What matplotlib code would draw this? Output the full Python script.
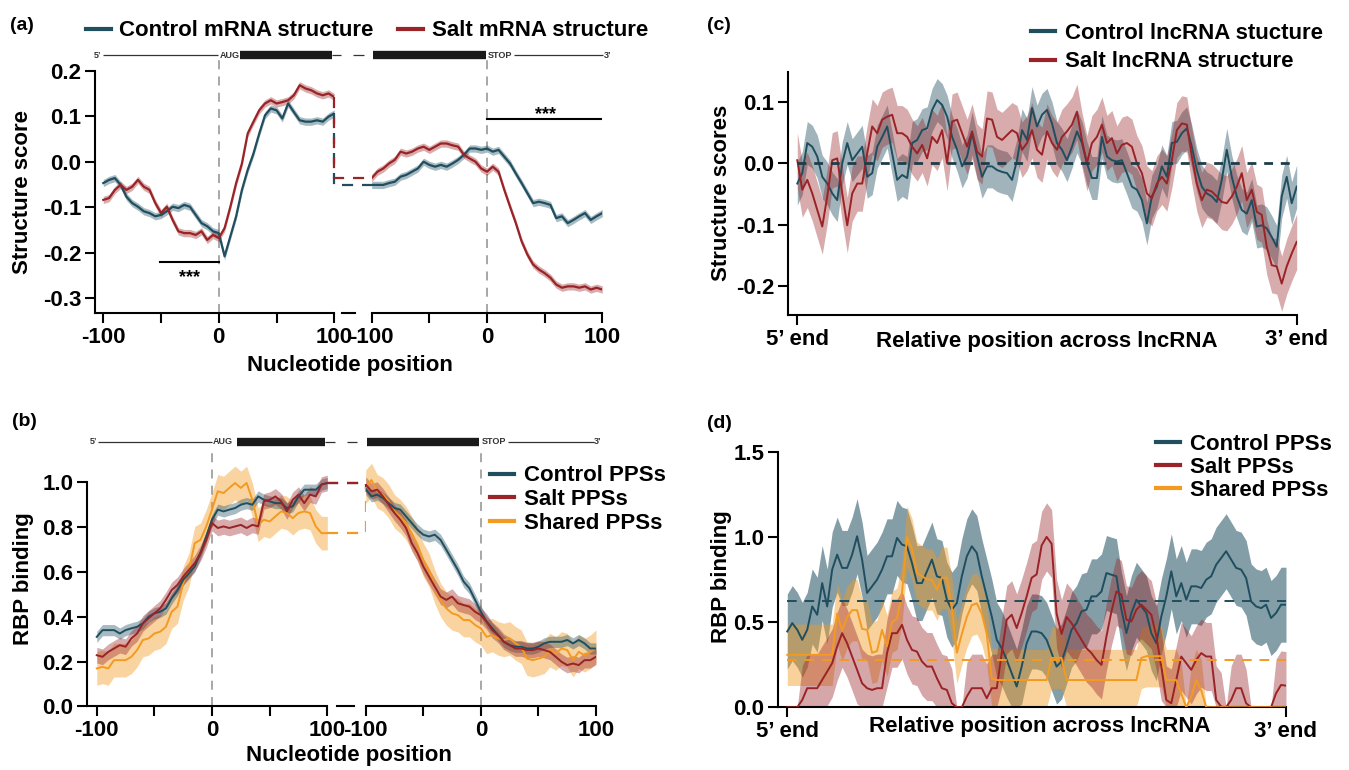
import numpy as np
import matplotlib
matplotlib.use('Agg')
import matplotlib.pyplot as plt
from matplotlib.ticker import FormatStrFormatter
from matplotlib.lines import Line2D

plt.rcParams['font.family'] = ['Liberation Sans', 'DejaVu Sans']
plt.rcParams['font.weight'] = 'bold'
plt.rcParams['axes.unicode_minus'] = False

# ---------------- data ----------------
pos_nt = list(range(-100, 101, 5))

# (a) mRNA structure score around start / stop codon
a_ctrl_start = [-0.047, -0.040, -0.036, -0.051, -0.077, -0.091, -0.099, -0.109, -0.113, -0.120,
                -0.117, -0.109, -0.099, -0.102, -0.095, -0.099, -0.117, -0.135, -0.142, -0.153,
                -0.157, -0.208, -0.164, -0.120, -0.062, -0.018, 0.018, 0.062, 0.102, 0.117,
                0.113, 0.095, 0.128, 0.109, 0.091, 0.088, 0.088, 0.091, 0.088, 0.099, 0.106]
a_salt_start = [-0.084, -0.080, -0.062, -0.051, -0.062, -0.055, -0.040, -0.055, -0.062, -0.091,
                -0.113, -0.099, -0.128, -0.153, -0.157, -0.157, -0.161, -0.153, -0.172, -0.161,
                -0.168, -0.146, -0.099, -0.047, -0.004, 0.062, 0.088, 0.113, 0.128, 0.135,
                0.128, 0.131, 0.135, 0.146, 0.168, 0.161, 0.157, 0.150, 0.146, 0.150, 0.142]
a_ctrl_stop = [-0.051, -0.051, -0.051, -0.047, -0.044, -0.033, -0.029, -0.022, -0.015, 0.000,
               -0.007, -0.011, -0.007, -0.011, -0.004, 0.004, 0.015, 0.029, 0.029, 0.026,
               0.029, 0.022, 0.026, 0.011, -0.004, -0.026, -0.047, -0.069, -0.091, -0.088,
               -0.091, -0.095, -0.124, -0.120, -0.135, -0.128, -0.120, -0.113, -0.128, -0.120, -0.113]
a_salt_stop = [-0.036, -0.022, -0.015, -0.004, 0.004, 0.022, 0.018, 0.022, 0.029, 0.033,
               0.026, 0.033, 0.040, 0.040, 0.036, 0.033, 0.015, 0.007, 0.000, -0.015,
               -0.022, -0.011, -0.022, -0.062, -0.099, -0.135, -0.175, -0.204, -0.226, -0.237,
               -0.245, -0.255, -0.270, -0.277, -0.274, -0.274, -0.277, -0.274, -0.281, -0.277, -0.281]
a_se = {'ctrl': 0.008, 'salt': 0.008}

# (b) RBP binding around start / stop codon
b_ctrl_start = [0.310, 0.340, 0.340, 0.340, 0.325, 0.340, 0.348, 0.355, 0.370, 0.400,
                0.415, 0.422, 0.437, 0.482, 0.519, 0.564, 0.594, 0.624, 0.684, 0.758,
                0.833, 0.878, 0.870, 0.878, 0.885, 0.900, 0.907, 0.900, 0.937, 0.922,
                0.915, 0.907, 0.907, 0.885, 0.893, 0.937, 0.967, 0.967, 0.967, 0.990, 0.997]
b_salt_start = [0.228, 0.221, 0.243, 0.258, 0.273, 0.266, 0.303, 0.325, 0.370, 0.393,
                0.415, 0.437, 0.475, 0.519, 0.542, 0.579, 0.609, 0.639, 0.684, 0.743,
                0.818, 0.796, 0.803, 0.796, 0.803, 0.810, 0.796, 0.810, 0.803, 0.915,
                0.922, 0.937, 0.915, 0.870, 0.922, 0.945, 0.907, 0.945, 0.937, 0.990, 0.997]
b_shared_start = [0.169, 0.176, 0.169, 0.206, 0.206, 0.206, 0.221, 0.251, 0.296, 0.303,
                  0.325, 0.333, 0.355, 0.422, 0.445, 0.549, 0.609, 0.728, 0.743, 0.803,
                  0.878, 0.960, 0.952, 0.975, 0.997, 0.975, 0.997, 0.922, 0.810, 0.833,
                  0.825, 0.848, 0.870, 0.863, 0.840, 0.863, 0.870, 0.863, 0.803, 0.773, 0.773]
b_ctrl_stop = [0.970, 0.937, 0.945, 0.930, 0.907, 0.885, 0.878, 0.848, 0.818, 0.788,
               0.766, 0.758, 0.766, 0.743, 0.699, 0.654, 0.609, 0.557, 0.527, 0.475,
               0.422, 0.378, 0.348, 0.318, 0.288, 0.273, 0.266, 0.266, 0.258, 0.258,
               0.266, 0.281, 0.288, 0.288, 0.288, 0.296, 0.281, 0.296, 0.281, 0.258, 0.258]
b_salt_stop = [0.990, 0.960, 0.967, 0.937, 0.900, 0.863, 0.833, 0.796, 0.728, 0.684,
               0.624, 0.579, 0.534, 0.490, 0.475, 0.490, 0.460, 0.452, 0.445, 0.422,
               0.407, 0.378, 0.340, 0.318, 0.288, 0.273, 0.258, 0.258, 0.251, 0.251,
               0.258, 0.251, 0.243, 0.221, 0.199, 0.184, 0.191, 0.184, 0.206, 0.206, 0.221]
b_shared_stop = [0.980, 1.010, 0.960, 0.945, 0.915, 0.870, 0.848, 0.818, 0.773, 0.721,
                 0.654, 0.609, 0.534, 0.475, 0.437, 0.415, 0.407, 0.385, 0.385, 0.363,
                 0.348, 0.310, 0.318, 0.303, 0.296, 0.303, 0.281, 0.266, 0.213, 0.206,
                 0.213, 0.221, 0.251, 0.236, 0.258, 0.251, 0.206, 0.243, 0.228, 0.243, 0.266]
b_se = {'ctrl': 0.025, 'salt': 0.035, 'shared': 0.075}

# (c) lncRNA structure, relative position 0..100
pos_rel = list(range(0, 101))
c_ctrl = [-0.033, -0.016, 0.033, 0.027, 0.011, -0.022, -0.033, -0.049, -0.060, 0.000,
          0.033, 0.005, 0.016, 0.027, -0.022, -0.016, 0.027, 0.043, 0.060, 0.016,
          -0.027, -0.019, -0.024, 0.033, 0.038, 0.054, 0.057, 0.087, 0.103, 0.095,
          0.076, 0.043, 0.022, -0.005, 0.011, 0.049, 0.011, -0.022, -0.005, -0.005,
          -0.011, -0.014, -0.016, -0.027, 0.005, 0.054, 0.038, 0.090, 0.060, 0.079,
          0.087, 0.065, 0.033, 0.022, 0.005, 0.027, 0.052, 0.033, 0.000, -0.024,
          -0.024, 0.043, 0.011, 0.005, 0.003, 0.005, -0.016, -0.038, -0.043, -0.060,
          -0.098, -0.054, -0.038, -0.005, -0.022, 0.033, 0.035, 0.049, 0.057, 0.027,
          -0.011, -0.038, -0.049, -0.054, -0.063, -0.027, 0.022, -0.022, -0.054, -0.076,
          -0.082, -0.060, -0.103, -0.101, -0.106, -0.120, -0.136, -0.054, -0.022, -0.065,
          -0.038]
c_salt = [0.005, -0.043, -0.027, -0.049, -0.076, -0.103, -0.054, 0.005, 0.008, -0.049,
          -0.101, -0.049, -0.033, -0.033, 0.016, 0.060, 0.049, 0.071, 0.076, 0.079,
          0.049, 0.049, 0.043, 0.027, 0.016, 0.030, 0.008, 0.043, 0.033, 0.054,
          0.000, 0.068, 0.071, 0.049, 0.027, 0.052, 0.019, 0.011, 0.073, 0.071,
          0.043, 0.038, 0.046, 0.054, 0.049, 0.022, 0.033, 0.054, 0.022, 0.014,
          0.052, 0.033, 0.022, 0.043, 0.052, 0.063, 0.084, 0.038, 0.000, 0.033,
          0.043, 0.063, 0.033, 0.041, 0.016, 0.030, 0.033, 0.027, 0.000, -0.016,
          -0.049, -0.057, -0.033, -0.022, -0.033, 0.005, 0.054, 0.065, 0.063, 0.011,
          -0.033, -0.060, -0.043, -0.046, -0.054, -0.063, -0.065, -0.054, -0.038, -0.016,
          -0.060, -0.043, -0.079, -0.084, -0.136, -0.166, -0.168, -0.196, -0.168, -0.147,
          -0.128]
c_se = {'ctrl': 0.035, 'salt': 0.045}
c_ref = 0.0

# (d) lncRNA RBP binding
d_ctrl = [0.445, 0.494, 0.455, 0.396, 0.455, 0.592, 0.543, 0.729, 0.592, 0.808,
          0.896, 0.818, 0.818, 0.896, 1.004, 0.867, 0.671, 0.710, 0.749, 0.808,
          0.886, 0.886, 0.994, 0.955, 0.945, 0.847, 0.729, 0.729, 0.798, 0.867,
          0.769, 0.759, 0.631, 0.573, 0.612, 0.769, 0.886, 0.945, 0.906, 0.769,
          0.651, 0.533, 0.396, 0.347, 0.278, 0.200, 0.122, 0.239, 0.376, 0.445,
          0.445, 0.435, 0.396, 0.318, 0.239, 0.269, 0.357, 0.455, 0.494, 0.563,
          0.573, 0.651, 0.651, 0.680, 0.788, 0.778, 0.769, 0.573, 0.435, 0.553,
          0.631, 0.592, 0.553, 0.435, 0.376, 0.533, 0.651, 0.798, 0.651, 0.729,
          0.631, 0.710, 0.710, 0.700, 0.749, 0.769, 0.837, 0.876, 0.916, 0.867,
          0.818, 0.808, 0.759, 0.622, 0.592, 0.582, 0.602, 0.524, 0.553, 0.602,
          0.602]
d_salt = [0.000, 0.000, 0.000, 0.043, 0.112, 0.112, 0.112, 0.161, 0.210, 0.259,
          0.357, 0.435, 0.376, 0.298, 0.220, 0.141, 0.112, 0.102, 0.112, 0.112,
          0.318, 0.435, 0.435, 0.484, 0.396, 0.337, 0.327, 0.269, 0.239, 0.239,
          0.171, 0.112, 0.102, 0.024, 0.000, 0.000, 0.063, 0.112, 0.112, 0.112,
          0.053, 0.112, 0.112, 0.318, 0.514, 0.543, 0.465, 0.553, 0.651, 0.760,
          0.780, 0.950, 1.000, 0.960, 0.550, 0.430, 0.530, 0.494, 0.445, 0.396,
          0.347, 0.318, 0.278, 0.249, 0.416, 0.563, 0.680, 0.661, 0.514, 0.504,
          0.573, 0.602, 0.573, 0.543, 0.416, 0.239, 0.043, 0.024, 0.161, 0.298,
          0.259, 0.220, 0.278, 0.318, 0.298, 0.298, 0.043, 0.004, 0.000, 0.043,
          0.112, 0.112, 0.024, 0.000, 0.000, 0.000, 0.000, 0.000, 0.082, 0.131,
          0.127]
d_shared = [0.308, 0.308, 0.308, 0.308, 0.308, 0.308, 0.308, 0.308, 0.308, 0.308,
            0.550, 0.450, 0.530, 0.570, 0.570, 0.460, 0.455, 0.320, 0.330, 0.455,
            0.360, 0.500, 0.520, 0.670, 1.000, 0.930, 0.790, 0.770, 0.750, 0.750,
            0.690, 0.760, 0.760, 0.580, 0.320, 0.430, 0.530, 0.600, 0.610, 0.550,
            0.430, 0.170, 0.160, 0.160, 0.160, 0.160, 0.160, 0.160, 0.160, 0.160,
            0.160, 0.160, 0.160, 0.290, 0.290, 0.290, 0.160, 0.160, 0.160, 0.160,
            0.160, 0.160, 0.160, 0.160, 0.160, 0.160, 0.160, 0.160, 0.160, 0.160,
            0.160, 0.290, 0.300, 0.300, 0.300, 0.300, 0.160, 0.160, 0.160, 0.080,
            0.000, 0.060, 0.160, 0.100, 0.000, 0.000, 0.000, 0.000, 0.000, 0.000,
            0.000, 0.000, 0.000, 0.000, 0.000, 0.000, 0.000, 0.000, 0.000, 0.000,
            0.000]
d_se = {'ctrl': 0.22, 'salt': 0.2, 'shared': 0.18}
d_ref = {'ctrl': 0.625, 'shared': 0.28}

# ---------------- style ----------------
C_CTRL = '#1f4e5f'
C_SALT = '#992326'
C_SHARED = '#f39a21'
C_GREY = '#a0a0a0'
FS = 16

W, H = 1349, 770
fig = plt.figure(figsize=(W / 100, H / 100), dpi=100)


def px_axes(x0, x1, ytop, ybot):
    return fig.add_axes([x0 / W, 1 - ybot / H, (x1 - x0) / W, (ybot - ytop) / H])


def style(ax, left=True):
    for s in ['top', 'right']:
        ax.spines[s].set_visible(False)
    ax.spines['left'].set_visible(left)
    for s in ['left', 'bottom']:
        ax.spines[s].set_linewidth(1.5)
    ax.tick_params(direction='out', length=7, width=1.5, labelsize=FS, pad=3)
    if not left:
        ax.tick_params(left=False, labelleft=False)
    for lab in ax.get_xticklabels() + ax.get_yticklabels():
        lab.set_fontweight('bold')


def band(ax, x, y, se, color, alpha, clip0=False):
    x = np.asarray(x, float)
    y = np.asarray(y, float)
    lo = y - se
    hi = y + se
    if clip0:
        lo = np.clip(lo, 0, None)
        lo = np.where(y <= 0, 0, lo)
        hi = np.where(y <= 0, 0, hi)
    ax.fill_between(x, lo, hi, color=color, alpha=alpha, lw=0, zorder=2)


def gene_text(ax, x, y, s, ha):
    ax.text(x, y, s, ha=ha, va='center', fontsize=6.5, fontweight='bold', color='#333333',
            clip_on=False)


def thin(ax, x0, x1, y):
    ax.plot([x0, x1], [y, y], color='#333333', lw=0.9, clip_on=False, solid_capstyle='butt')


def thick(ax, x0, x1, y):
    ax.plot([x0, x1], [y, y], color='#1a1a1a', lw=6, clip_on=False, solid_capstyle='butt')


DASH = (0, (5, 4))

# ================= panel (a) =================
a_ylim = (-0.333, 0.25)
ax_a1 = px_axes(95, 334.3, 47.95, 313.2)
ax_ag = px_axes(334.3, 371.7, 47.95, 313.2)
ax_a2 = px_axes(371.7, 602.3, 47.95, 313.2)
for ax in (ax_a1, ax_a2, ax_ag):
    ax.set_ylim(*a_ylim)
ax_a1.set_xlim(-107.2, 100)
ax_a2.set_xlim(-100, 100)
ax_ag.set_xlim(0, 1)
ax_ag.axis('off')

for ax, yc, ys in ((ax_a1, a_ctrl_start, a_salt_start), (ax_a2, a_ctrl_stop, a_salt_stop)):
    band(ax, pos_nt, yc, a_se['ctrl'], C_CTRL, 0.38)
    band(ax, pos_nt, ys, a_se['salt'], C_SALT, 0.38)
    ax.plot(pos_nt, yc, color=C_CTRL, lw=1.6, zorder=4)
    ax.plot(pos_nt, ys, color=C_SALT, lw=1.6, zorder=5)
    ax.plot([0, 0], [a_ylim[0], 0.226], color=C_GREY, lw=1.3, linestyle=DASH, zorder=1)
    ax.set_xticks([-100, -50, 0, 50, 100])
    ax.set_xticklabels(['-100', '', '0', '', '100'])

# gap connectors (a): drop at left end, then across
for yl, yr, col in ((a_ctrl_start[-1], a_ctrl_stop[0], C_CTRL), (a_salt_start[-1], a_salt_stop[0], C_SALT)):
    ax_ag.plot([0, 0, 1], [yl, yr, yr], color=col, lw=1.6, linestyle=DASH, clip_on=False)
ax_ag.plot([0.2, 0.55], [a_ylim[0], a_ylim[0]], color='black', lw=1.5, clip_on=False)

ax_a1.set_yticks([-0.3, -0.2, -0.1, 0.0, 0.1, 0.2])
ax_a1.yaxis.set_major_formatter(FormatStrFormatter('%.1f'))
ax_a1.spines['left'].set_bounds(a_ylim[0], 0.2)
style(ax_a1)
style(ax_a2, left=False)

# significance
ax_a1.plot([-50.9, 0], [-0.22, -0.22], color='black', lw=1.5)
ax_a1.text(-25.5, -0.255, '***', ha='center', va='center', fontsize=13, fontweight='bold')
ax_a2.plot([0, 100], [0.093, 0.093], color='black', lw=1.5)
ax_a2.text(50.6, 0.104, '***', ha='center', va='center', fontsize=13, fontweight='bold')

# gene model (a)
yg = 0.2345
gene_text(ax_a1, -101.5, yg, '5’', 'right')
thin(ax_a1, -100, -1, yg)
gene_text(ax_a1, 0.5, yg, 'AUG', 'left')
thick(ax_a1, 18, 98, yg)
thin(ax_a1, 98, 106, yg)
thin(ax_a2, -116, -107, yg)
thick(ax_a2, -99, -1, yg)
gene_text(ax_a2, 0.5, yg, 'STOP', 'left')
thin(ax_a2, 23, 100.5, yg)
gene_text(ax_a2, 101, yg, '3’', 'left')

fig.legend(handles=[Line2D([], [], color=C_CTRL, lw=3), Line2D([], [], color=C_SALT, lw=3)],
           labels=['Control mRNA structure', 'Salt mRNA structure'],
           loc='center', bbox_to_anchor=(367 / W, 1 - 31 / H), ncol=2, frameon=False,
           prop={'size': FS, 'weight': 'bold'}, handlelength=1.1, handletextpad=0.4,
           columnspacing=1.1, borderpad=0, borderaxespad=0)
fig.text(23 / W, 1 - 191.5 / H, 'Structure score', rotation=90, ha='center', va='center',
         fontsize=FS, fontweight='bold')
fig.text(350 / W, 1 - 365 / H, 'Nucleotide position', ha='center', va='center',
         fontsize=FS, fontweight='bold')

# ================= panel (b) =================
b_ylim = (0, 1.2)
ax_b1 = px_axes(87.3, 327.3, 437.5, 706.3)
ax_bg = px_axes(327.3, 365.7, 437.5, 706.3)
ax_b2 = px_axes(365.7, 596, 437.5, 706.3)
for ax in (ax_b1, ax_b2, ax_bg):
    ax.set_ylim(*b_ylim)
ax_b1.set_xlim(-108.2, 100)
ax_b2.set_xlim(-100, 100)
ax_bg.set_xlim(0, 1)
ax_bg.axis('off')

for ax, yc, ys, yh in ((ax_b1, b_ctrl_start, b_salt_start, b_shared_start),
                       (ax_b2, b_ctrl_stop, b_salt_stop, b_shared_stop)):
    band(ax, pos_nt, yh, b_se['shared'], C_SHARED, 0.42)
    band(ax, pos_nt, yc, b_se['ctrl'], C_CTRL, 0.38)
    band(ax, pos_nt, ys, b_se['salt'], C_SALT, 0.38)
    ax.plot(pos_nt, yh, color=C_SHARED, lw=1.4, zorder=4)
    ax.plot(pos_nt, yc, color=C_CTRL, lw=1.4, zorder=4)
    ax.plot(pos_nt, ys, color=C_SALT, lw=1.4, zorder=5)
    ax.plot([0, 0], [0, 1.13], color=C_GREY, lw=1.3, linestyle=DASH, zorder=1)
    ax.set_xticks([-100, -50, 0, 50, 100])
    ax.set_xticklabels(['-100', '', '0', '', '100'])

# gap connectors (b): across at left end value, then rise at right start
for yl, yr, col in ((b_ctrl_start[-1], b_ctrl_stop[0], C_CTRL),
                    (b_shared_start[-1], b_shared_stop[0], C_SHARED),
                    (b_salt_start[-1], b_salt_stop[0], C_SALT)):
    ax_bg.plot([0, 1, 1], [yl, yl, yr], color=col, lw=1.6, linestyle=DASH, clip_on=False)
ax_bg.plot([0.25, 0.69], [0, 0], color='black', lw=1.5, clip_on=False)

ax_b1.set_yticks([0.0, 0.2, 0.4, 0.6, 0.8, 1.0])
ax_b1.yaxis.set_major_formatter(FormatStrFormatter('%.1f'))
ax_b1.spines['left'].set_bounds(0, 1.0)
style(ax_b1)
style(ax_b2, left=False)

yg = 1.181
gene_text(ax_b1, -99.5, yg, '5’', 'right')
thin(ax_b1, -99, 0, yg)
gene_text(ax_b1, 0.5, yg, 'AUG', 'left')
thick(ax_b1, 21.5, 98, yg)
thin(ax_b1, 98, 107, yg)
thin(ax_b2, -116, -107.5, yg)
thick(ax_b2, -99, -2, yg)
gene_text(ax_b2, 0.5, yg, 'STOP', 'left')
thin(ax_b2, 24, 98, yg)
gene_text(ax_b2, 98.5, yg, '3’', 'left')

fig.legend(handles=[Line2D([], [], color=C_CTRL, lw=3), Line2D([], [], color=C_SALT, lw=3),
                    Line2D([], [], color=C_SHARED, lw=3)],
           labels=['Control PPSs', 'Salt PPSs', 'Shared PPSs'],
           loc='upper left', bbox_to_anchor=(490 / W, 1 - 465.5 / H), frameon=False,
           prop={'size': FS, 'weight': 'bold'}, handlelength=1.1, handletextpad=0.45,
           labelspacing=0.12, borderpad=0, borderaxespad=0)
fig.text(24 / W, 1 - 579 / H, 'RBP binding', rotation=90, ha='center', va='center',
         fontsize=FS, fontweight='bold')
fig.text(348.7 / W, 1 - 756 / H, 'Nucleotide position', ha='center', va='center',
         fontsize=FS, fontweight='bold')

# ================= panel (c) =================
ax_c = px_axes(788.3, 1296.7, 71.7, 315)
ax_c.set_xlim(-1.8, 100)
ax_c.set_ylim(-0.2471, 0.1492)
band(ax_c, pos_rel, c_ctrl, c_se['ctrl'], C_CTRL, 0.42)
band(ax_c, pos_rel, c_salt, c_se['salt'], C_SALT, 0.38)
ax_c.plot(pos_rel, c_ctrl, color=C_CTRL, lw=1.4, zorder=4)
ax_c.plot(pos_rel, c_salt, color=C_SALT, lw=1.4, zorder=5)
ax_c.plot([pos_rel[0], pos_rel[-1]], [c_ref, c_ref], color='#1d3c4a', lw=2.0,
          linestyle=(0, (3.2, 2.8)), zorder=6)
ax_c.set_xticks([0, 100])
ax_c.set_xticklabels(['5’ end', '3’ end'])
ax_c.set_yticks([-0.2, -0.1, 0.0, 0.1])
ax_c.yaxis.set_major_formatter(FormatStrFormatter('%.1f'))
style(ax_c)
fig.legend(handles=[Line2D([], [], color=C_CTRL, lw=3), Line2D([], [], color=C_SALT, lw=3)],
           labels=['Control lncRNA stucture', 'Salt lncRNA structure'],
           loc='upper left', bbox_to_anchor=(1031 / W, 1 - 22.7 / H), frameon=False,
           prop={'size': FS, 'weight': 'bold'}, handlelength=1.1, handletextpad=0.45,
           labelspacing=0.35, borderpad=0, borderaxespad=0)
fig.text(722 / W, 1 - 193.3 / H, 'Structure scores', rotation=90, ha='center', va='center',
         fontsize=FS, fontweight='bold')
fig.text(1047 / W, 1 - 341.7 / H, 'Relative position across lncRNA', ha='center', va='center',
         fontsize=FS, fontweight='bold')

# ================= panel (d) =================
ax_d = px_axes(778.3, 1286, 451.7, 707.3)
ax_d.set_xlim(-1.8, 100)
ax_d.set_ylim(0, 1.5)
band(ax_d, pos_rel, d_ctrl, d_se['ctrl'], C_CTRL, 0.55, clip0=True)
band(ax_d, pos_rel, d_shared, d_se['shared'], C_SHARED, 0.45, clip0=True)
band(ax_d, pos_rel, d_salt, d_se['salt'], C_SALT, 0.4, clip0=True)
ax_d.plot(pos_rel, d_ctrl, color=C_CTRL, lw=1.4, zorder=4)
ax_d.plot(pos_rel, d_salt, color=C_SALT, lw=1.4, zorder=5)
ax_d.plot(pos_rel, d_shared, color=C_SHARED, lw=1.4, zorder=5)
ax_d.plot([pos_rel[0], pos_rel[-1]], [d_ref['ctrl']] * 2, color=C_CTRL, lw=1.4,
          linestyle=(0, (5, 4)), zorder=6)
ax_d.plot([pos_rel[0], pos_rel[-1]], [d_ref['shared']] * 2, color=C_SHARED, lw=1.4,
          linestyle=(0, (5, 4)), zorder=6)
ax_d.set_xticks([0, 100])
ax_d.set_xticklabels(['5’ end', '3’ end'])
ax_d.set_yticks([0.0, 0.5, 1.0, 1.5])
ax_d.yaxis.set_major_formatter(FormatStrFormatter('%.1f'))
style(ax_d)
fig.legend(handles=[Line2D([], [], color=C_CTRL, lw=3), Line2D([], [], color=C_SALT, lw=3),
                    Line2D([], [], color=C_SHARED, lw=3)],
           labels=['Control PPSs', 'Salt PPSs', 'Shared PPSs'],
           loc='upper left', bbox_to_anchor=(1156 / W, 1 - 433.7 / H), frameon=False,
           prop={'size': FS, 'weight': 'bold'}, handlelength=1.1, handletextpad=0.45,
           labelspacing=0.1, borderpad=0, borderaxespad=0)
fig.text(722 / W, 1 - 577 / H, 'RBP binding', rotation=90, ha='center', va='center',
         fontsize=FS, fontweight='bold')
fig.text(1040 / W, 1 - 726.7 / H, 'Relative position across lncRNA', ha='center', va='center',
         fontsize=FS, fontweight='bold')

# panel letters
for s, x, y in (('(a)', 22, 25), ('(b)', 24, 422), ('(c)', 719, 25), ('(d)', 719, 423)):
    fig.text(x / W, 1 - y / H, s, ha='center', va='center', fontsize=14, fontweight='bold')

fig.savefig('out.png', dpi=100)
